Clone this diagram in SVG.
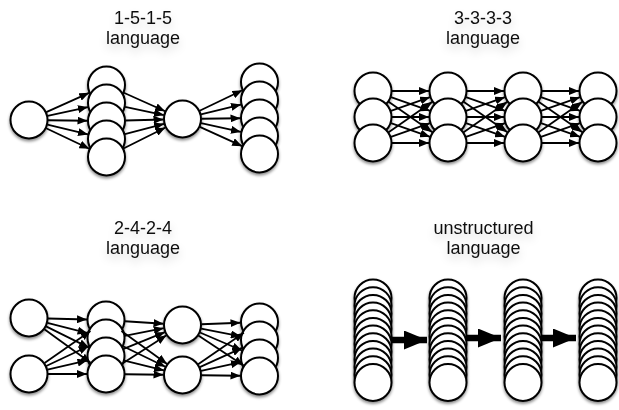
<svg xmlns="http://www.w3.org/2000/svg" width="619" height="410" viewBox="0 0 619 410">
  <style>
    .node { fill: #fff; stroke: #000; stroke-width: 2; filter: url(#shadow); }
    .edge { fill: none; stroke: #000; stroke-width: 1.8; marker-end: url(#head); }
    .fat { fill: none; stroke: #000; stroke-width: 6.5; marker-end: url(#bighead); }
    .label { font-family: "Liberation Sans", Arial, sans-serif; font-size: 18px; fill: #111; text-anchor: middle; }
  </style>
  <defs>
    <filter id="shadow" x="-40%" y="-40%" width="180%" height="190%">
      <feDropShadow dx="0" dy="2" stdDeviation="1.6" flood-color="#000" flood-opacity="0.45"/>
    </filter>
    <filter id="haze" x="-30%" y="-60%" width="160%" height="260%">
      <feGaussianBlur in="SourceAlpha" stdDeviation="4"/>
      <feOffset dy="5" result="blur"/>
      <feFlood flood-color="#000" flood-opacity="0.16"/>
      <feComposite in2="blur" operator="in"/>
      <feMerge><feMergeNode/><feMergeNode in="SourceGraphic"/></feMerge>
    </filter>
    <marker id="head" viewBox="0 0 10 8" refX="10" refY="4" markerWidth="10" markerHeight="8" markerUnits="userSpaceOnUse" orient="auto">
      <path d="M0,0 L10,4 L0,8 Z" fill="#000"/>
    </marker>
    <marker id="bighead" viewBox="0 0 23 19" refX="23" refY="9.5" markerWidth="23" markerHeight="19" markerUnits="userSpaceOnUse" orient="auto">
      <path d="M0,0 L23,9.5 L0,19 Z" fill="#000"/>
    </marker>
    <!-- full 3x3 mesh between two adjacent columns (column centres 75 apart, rows 91/117/143) -->
    <g id="mesh3">
      <line class="edge" x1="19" y1="91" x2="56" y2="91"/>
      <line class="edge" x1="17.95" y1="97.22" x2="57.05" y2="110.78"/>
      <line class="edge" x1="15.61" y1="101.83" x2="59.39" y2="132.17"/>
      <line class="edge" x1="19" y1="117" x2="56" y2="117"/>
      <line class="edge" x1="17.95" y1="110.78" x2="57.05" y2="97.22"/>
      <line class="edge" x1="17.95" y1="123.22" x2="57.05" y2="136.78"/>
      <line class="edge" x1="19" y1="143" x2="56" y2="143"/>
      <line class="edge" x1="17.95" y1="136.78" x2="57.05" y2="123.22"/>
      <line class="edge" x1="15.61" y1="132.17" x2="59.39" y2="101.83"/>
    </g>
    <!-- twelve tightly stacked units -->
    <g id="stack">
      <circle class="node" cx="0" cy="298" r="18.5"/>
      <circle class="node" cx="0" cy="305.7" r="18.5"/>
      <circle class="node" cx="0" cy="313.4" r="18.5"/>
      <circle class="node" cx="0" cy="321" r="18.5"/>
      <circle class="node" cx="0" cy="328.7" r="18.5"/>
      <circle class="node" cx="0" cy="336.4" r="18.5"/>
      <circle class="node" cx="0" cy="344.1" r="18.5"/>
      <circle class="node" cx="0" cy="351.8" r="18.5"/>
      <circle class="node" cx="0" cy="359.4" r="18.5"/>
      <circle class="node" cx="0" cy="367.1" r="18.5"/>
      <circle class="node" cx="0" cy="374.8" r="18.5"/>
      <circle class="node" cx="0" cy="382.5" r="18.5"/>
    </g>
  </defs>

  <!-- titles -->
  <g id="titles" class="label" filter="url(#haze)">
    <text x="143" y="24">1-5-1-5</text>
    <text x="143" y="43.5">language</text>
    <text x="483" y="24">3-3-3-3</text>
    <text x="483" y="43.5">language</text>
    <text x="143" y="234">2-4-2-4</text>
    <text x="143" y="253.5">language</text>
    <text x="483.5" y="234">unstructured</text>
    <text x="483.5" y="253.5">language</text>
  </g>

  <!-- 1-5-1-5 network -->
  <g id="a-in"><circle class="node" cx="29" cy="120" r="18.5"/></g>
  <g id="a-h1-1"><circle class="node" cx="106.5" cy="85" r="18.5"/></g>
  <g id="a-h1-2"><circle class="node" cx="106.5" cy="103" r="18.5"/></g>
  <g id="a-h1-3"><circle class="node" cx="106.5" cy="121" r="18.5"/></g>
  <g id="a-h1-4"><circle class="node" cx="106.5" cy="139" r="18.5"/></g>
  <g id="a-h1-5"><circle class="node" cx="106.5" cy="157" r="18.5"/></g>
  <g id="a-mid"><circle class="node" cx="182.5" cy="119" r="18.5"/></g>
  <g id="a-out-1"><circle class="node" cx="259.5" cy="82" r="18.5"/></g>
  <g id="a-out-2"><circle class="node" cx="259.5" cy="100" r="18.5"/></g>
  <g id="a-out-3"><circle class="node" cx="259.5" cy="118" r="18.5"/></g>
  <g id="a-out-4"><circle class="node" cx="259.5" cy="136" r="18.5"/></g>
  <g id="a-out-5"><circle class="node" cx="259.5" cy="154" r="18.5"/></g>

  <!-- 3-3-3-3 network -->
  <g id="b-c1-1"><circle class="node" cx="373" cy="91" r="18.5"/></g>
  <g id="b-c1-2"><circle class="node" cx="373" cy="117" r="18.5"/></g>
  <g id="b-c1-3"><circle class="node" cx="373" cy="143" r="18.5"/></g>
  <g id="b-c2-1"><circle class="node" cx="448" cy="91" r="18.5"/></g>
  <g id="b-c2-2"><circle class="node" cx="448" cy="117" r="18.5"/></g>
  <g id="b-c2-3"><circle class="node" cx="448" cy="143" r="18.5"/></g>
  <g id="b-c3-1"><circle class="node" cx="523" cy="91" r="18.5"/></g>
  <g id="b-c3-2"><circle class="node" cx="523" cy="117" r="18.5"/></g>
  <g id="b-c3-3"><circle class="node" cx="523" cy="143" r="18.5"/></g>
  <g id="b-c4-1"><circle class="node" cx="598" cy="91" r="18.5"/></g>
  <g id="b-c4-2"><circle class="node" cx="598" cy="117" r="18.5"/></g>
  <g id="b-c4-3"><circle class="node" cx="598" cy="143" r="18.5"/></g>

  <!-- 2-4-2-4 network -->
  <g id="c-in-1"><circle class="node" cx="29" cy="318" r="18.5"/></g>
  <g id="c-in-2"><circle class="node" cx="29" cy="374" r="18.5"/></g>
  <g id="c-h1-1"><circle class="node" cx="106" cy="320" r="18.5"/></g>
  <g id="c-h1-2"><circle class="node" cx="106" cy="338" r="18.5"/></g>
  <g id="c-h1-3"><circle class="node" cx="106" cy="356" r="18.5"/></g>
  <g id="c-h1-4"><circle class="node" cx="106" cy="374" r="18.5"/></g>
  <g id="c-mid-1"><circle class="node" cx="182.5" cy="325" r="18.5"/></g>
  <g id="c-mid-2"><circle class="node" cx="182.5" cy="375" r="18.5"/></g>
  <g id="c-out-1"><circle class="node" cx="259.5" cy="322" r="18.5"/></g>
  <g id="c-out-2"><circle class="node" cx="259.5" cy="340" r="18.5"/></g>
  <g id="c-out-3"><circle class="node" cx="259.5" cy="358" r="18.5"/></g>
  <g id="c-out-4"><circle class="node" cx="259.5" cy="376" r="18.5"/></g>

  <!-- unstructured stacks -->
  <g id="d-stack-1"><use href="#stack" x="373"/></g>
  <g id="d-stack-2"><use href="#stack" x="448"/></g>
  <g id="d-stack-3"><use href="#stack" x="523"/></g>
  <g id="d-stack-4"><use href="#stack" x="598"/></g>

  <g id="connectors">
    <!-- 1-5-1-5 -->
    <line class="edge" x1="46.31" y1="112.18" x2="89.19" y2="92.82"/>
    <line class="edge" x1="47.56" y1="115.93" x2="87.94" y2="107.07"/>
    <line class="edge" x1="48" y1="120.25" x2="87.5" y2="120.75"/>
    <line class="edge" x1="47.45" y1="124.52" x2="88.05" y2="134.48"/>
    <line class="edge" x1="46.15" y1="128.19" x2="89.35" y2="148.81"/>
    <line class="edge" x1="123.84" y1="92.76" x2="165.16" y2="111.24"/>
    <line class="edge" x1="125.09" y1="106.91" x2="163.91" y2="115.09"/>
    <line class="edge" x1="125.49" y1="120.5" x2="163.51" y2="119.5"/>
    <line class="edge" x1="124.87" y1="134.16" x2="164.13" y2="123.84"/>
    <line class="edge" x1="123.49" y1="148.5" x2="165.51" y2="127.5"/>
    <line class="edge" x1="199.62" y1="110.77" x2="242.38" y2="90.23"/>
    <line class="edge" x1="200.95" y1="114.45" x2="241.05" y2="104.55"/>
    <line class="edge" x1="201.5" y1="118.75" x2="240.5" y2="118.25"/>
    <line class="edge" x1="201.05" y1="123.1" x2="240.95" y2="131.9"/>
    <line class="edge" x1="199.8" y1="126.86" x2="242.2" y2="146.14"/>

    <!-- 3-3-3-3 -->
    <use href="#mesh3" x="373"/>
    <use href="#mesh3" x="448"/>
    <use href="#mesh3" x="523"/>

    <!-- 2-4-2-4 -->
    <line class="edge" x1="48" y1="318.49" x2="87" y2="319.51"/>
    <line class="edge" x1="47.39" y1="322.78" x2="87.61" y2="333.22"/>
    <line class="edge" x1="46.04" y1="326.41" x2="88.96" y2="347.59"/>
    <line class="edge" x1="44.37" y1="329.18" x2="90.63" y2="362.82"/>
    <line class="edge" x1="44.56" y1="363.09" x2="90.44" y2="330.91"/>
    <line class="edge" x1="46.21" y1="365.95" x2="88.79" y2="346.05"/>
    <line class="edge" x1="47.5" y1="369.68" x2="87.5" y2="360.32"/>
    <line class="edge" x1="48" y1="374" x2="87" y2="374"/>
    <line class="edge" x1="124.96" y1="321.24" x2="163.54" y2="323.76"/>
    <line class="edge" x1="124.73" y1="335.82" x2="163.77" y2="328.18"/>
    <line class="edge" x1="123.61" y1="348.86" x2="164.89" y2="332.14"/>
    <line class="edge" x1="122" y1="363.75" x2="166.5" y2="335.25"/>
    <line class="edge" x1="121.43" y1="331.09" x2="167.07" y2="363.91"/>
    <line class="edge" x1="123.1" y1="346.27" x2="165.4" y2="366.73"/>
    <line class="edge" x1="124.44" y1="360.58" x2="164.06" y2="370.42"/>
    <line class="edge" x1="125" y1="374.25" x2="163.5" y2="374.75"/>
    <line class="edge" x1="201.49" y1="324.26" x2="240.51" y2="322.74"/>
    <line class="edge" x1="201.15" y1="328.63" x2="240.85" y2="336.37"/>
    <line class="edge" x1="199.96" y1="332.48" x2="242.04" y2="350.52"/>
    <line class="edge" x1="198.34" y1="335.49" x2="243.66" y2="365.51"/>
    <line class="edge" x1="198.15" y1="364.23" x2="243.85" y2="332.77"/>
    <line class="edge" x1="199.8" y1="367.14" x2="242.2" y2="347.86"/>
    <line class="edge" x1="201.05" y1="370.9" x2="240.95" y2="362.1"/>
    <line class="edge" x1="201.5" y1="375.25" x2="240.5" y2="375.75"/>

    <!-- unstructured -->
    <line class="fat" x1="391" y1="340" x2="427" y2="340"/>
    <line class="fat" x1="466" y1="338" x2="501" y2="338"/>
    <line class="fat" x1="541" y1="338" x2="576" y2="338"/>
  </g>
</svg>
